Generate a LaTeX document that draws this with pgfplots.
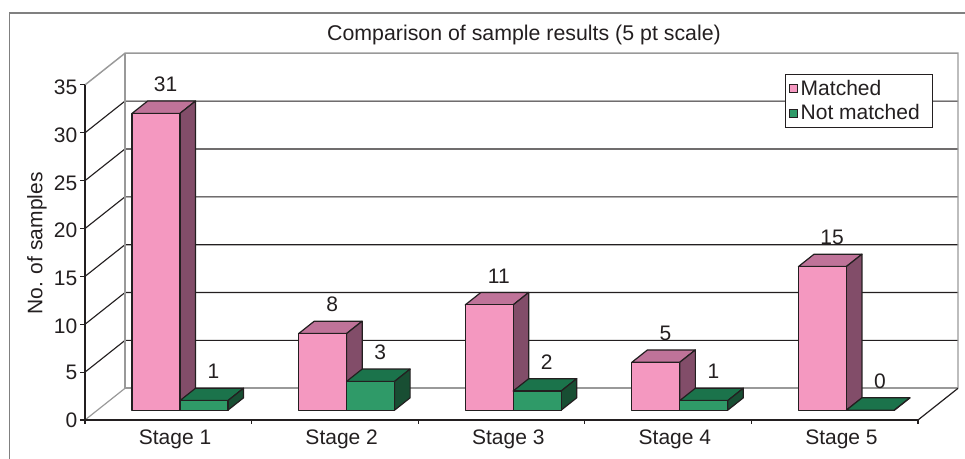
\documentclass[border=0pt]{standalone}
\usepackage{pgfplots}
\pgfplotsset{compat=1.18}
\usepackage{fontspec}
\setmainfont{Liberation Sans}
\definecolor{ink}{HTML}{231F20}
\definecolor{wallgrey}{HTML}{999999}
\definecolor{framegrey}{HTML}{808080}
\definecolor{pinkF}{HTML}{F498C0}
\definecolor{pinkS}{HTML}{824D69}
\definecolor{pinkT}{HTML}{BF7399}
\definecolor{greenF}{HTML}{2F9A68}
\definecolor{greenS}{HTML}{184E33}
\definecolor{greenT}{HTML}{1B734B}
\newcommand{\chartfont}{\fontsize{15.75}{18}\selectfont}
% x0, x1, value, front, side, top
\newcommand{\threedbar}[6]{%
  \addplot3[forget plot,draw=ink,line width=0.9pt,line join=round,fill=#6] coordinates {(#1,0.31,#3)(#2,0.31,#3)(#2,0.70,#3)(#1,0.70,#3)} -- cycle;
  \addplot3[forget plot,draw=ink,line width=0.9pt,line join=round,fill=#5] coordinates {(#2,0.31,0)(#2,0.70,0)(#2,0.70,#3)(#2,0.31,#3)} -- cycle;
  \addplot3[forget plot,draw=ink,line width=0.9pt,line join=round,fill=#4] coordinates {(#1,0.31,0)(#2,0.31,0)(#2,0.31,#3)(#1,0.31,#3)} -- cycle;
  \node[font=\chartfont,text=ink,anchor=center,xshift=7.2pt,yshift=21.75pt,inner sep=0pt] at (axis cs:{(#1+#2)/2},0.31,#3) {#3};
}
\begin{document}
\begin{tikzpicture}
\useasboundingbox (0,0) rectangle (723.75pt,344.25pt);
\draw[framegrey,line width=1pt] (7.1pt,0pt) -- (7.1pt,334.5pt) -- (723.75pt,334.5pt);
\begin{axis}[
  at={(63.75pt,29.25pt)},anchor=origin,
  x={(124.95pt,0pt)},y={(30pt,23.78pt)},z={(0pt,7.18pt)},
  xmin=0,xmax=5,ymin=0,ymax=1,zmin=0,zmax=35,
  clip=false,
  axis line style={draw=none},
  ytick=\empty,
  ztick={0,5,...,35},
  xtick={0.54,1.54,2.54,3.54,4.54},
  xticklabels={Stage 1,Stage 2,Stage 3,Stage 4,Stage 5},
  xtick pos=lower,ztick pos=left,
  xticklabel pos=lower,zticklabel pos=left,
  major tick length=0pt,
  /pgf/number format/assume math mode=true,
  tick label style={font=\chartfont,text=ink},
  xticklabel style={xshift=5.25pt,yshift=-3.75pt},
  zticklabel style={xshift=-2.25pt,yshift=2.6pt},
  title={Comparison of sample results (5 pt scale)},
  every axis title/.style={at={(axis cs:0,0,35)},anchor=center,xshift=329.25pt,yshift=37.5pt,font=\fontsize{16}{18}\selectfont,text=ink},
  zlabel={No. of samples},
  every axis z label/.style={at={(axis cs:0,0,18.44)},xshift=-36pt,anchor=center,rotate=90,font=\chartfont,text=ink},
  legend style={at={(axis cs:5,1,35)},anchor=north east,xshift=-18.75pt,yshift=-15.75pt,draw=ink,fill=white,line width=0.8pt,font=\chartfont,text=ink,inner xsep=2.5pt,inner ysep=2pt,row sep=1.5pt,nodes={inner xsep=2pt},/tikz/every even column/.append style={column sep=0pt}},
  legend cell align=left,
  legend image code/.code={\draw[#1,line width=0.8pt] (0pt,-3pt) rectangle (6pt,3pt);},
]
\addlegendimage{draw=ink,fill=pinkF}
\addlegendentry{Matched\rule{5pt}{0pt}}
\addlegendimage{draw=ink,fill=greenF}
\addlegendentry{Not matched\rule{5pt}{0pt}}
% walls
\pgfplotsinvokeforeach{5,10,15,20,25,30}{
  \addplot3[forget plot,draw=ink,line width=0.85pt] coordinates {(0,0,#1)(0,1,#1)(5,1,#1)};
}
\addplot3[forget plot,draw=wallgrey,line width=1.1pt] coordinates {(0,0,35)(0,1,35)(5,1,35)(5,1,0)};
\addplot3[forget plot,draw=wallgrey,line width=1.1pt] coordinates {(0,1,35)(0,1,0)};
\addplot3[forget plot,draw=wallgrey,line width=1.4pt] coordinates {(0,1,0)(5,1,0)};
\addplot3[forget plot,draw=wallgrey,line width=0.9pt] coordinates {(0,0,0)(0,1,0)};
\addplot3[forget plot,draw=ink,line width=0.9pt] coordinates {(5,0,0)(5,1,0)};
\addplot3[forget plot,draw=ink,line width=1pt] coordinates {(0,0,35)(0,0,0)(5,0,0)};
% tick marks
\pgfplotsinvokeforeach{0,1,2,3,4,5}{
  \addplot3[forget plot,draw=ink,line width=0.8pt] coordinates {(#1,0,0)(#1,0,-0.42)};
}
\pgfplotsinvokeforeach{0,5,10,15,20,25,30,35}{
  \addplot3[forget plot,draw=ink,line width=0.8pt] coordinates {(-0.03,0,#1)(0,0,#1)};
}
% Stage 1
\threedbar{0.208}{0.4955}{31}{pinkF}{pinkS}{pinkT}
\threedbar{0.4955}{0.7835}{1}{greenF}{greenS}{greenT}
% Stage 2
\threedbar{1.208}{1.4955}{8}{pinkF}{pinkS}{pinkT}
\threedbar{1.4955}{1.7835}{3}{greenF}{greenS}{greenT}
% Stage 3
\threedbar{2.208}{2.4955}{11}{pinkF}{pinkS}{pinkT}
\threedbar{2.4955}{2.7835}{2}{greenF}{greenS}{greenT}
% Stage 4
\threedbar{3.208}{3.4955}{5}{pinkF}{pinkS}{pinkT}
\threedbar{3.4955}{3.7835}{1}{greenF}{greenS}{greenT}
% Stage 5
\threedbar{4.208}{4.4955}{15}{pinkF}{pinkS}{pinkT}
\threedbar{4.4955}{4.7835}{0}{greenF}{greenS}{greenT}
\end{axis}
\end{tikzpicture}
\end{document}
